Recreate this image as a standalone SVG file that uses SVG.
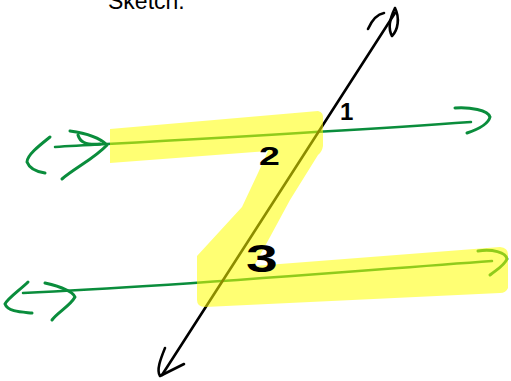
<svg xmlns="http://www.w3.org/2000/svg" width="511" height="381" viewBox="0 0 511 381">
<style>
.g{fill:none;stroke:#0a8d3c;stroke-width:3;stroke-linecap:round;stroke-linejoin:round}
.gl{fill:none;stroke:#0a8d3c;stroke-width:2.5;stroke-linecap:round}
.k{fill:none;stroke:#000;stroke-width:2.6;stroke-linecap:round;stroke-linejoin:round}
.lbl{font-family:"Liberation Sans",Arial,sans-serif;fill:#000}
.num{font-family:"Liberation Sans",Arial,sans-serif;fill:#000;font-weight:bold}
.hl{fill:#ffff00;opacity:0.55}
</style>
<rect width="511" height="381" fill="#fff"/>
<text class="lbl" x="108" y="9" font-size="23">Sketch:</text>
<g id="connectors">
<g id="line-upper">
<path class="gl" d="M55,147 C180,140 330,132 471,122"/>
<path class="g" d="M50,137 C40,145 27,155 27,162 C30,170 38,172 45,173"/>
<path class="g" d="M70,131 C85,133 100,138 107,145 C95,158 75,168 62,179"/>
<path class="g" d="M78,135 C80,142 85,145 100,144"/>
<path class="g" d="M455,108 C470,107 488,110 490,117 C488,125 476,130 467,133"/>
</g>
<g id="line-lower">
<path class="gl" d="M23,293 C180,286 340,272 492,261"/>
<path class="g" d="M28,282 C20,290 8,298 5,304 C8,312 22,312 32,313"/>
<path class="g" d="M45,283 C58,286 72,290 75,297 C70,306 58,312 52,320"/>
<path class="g" d="M478,251 C492,249 506,252 507,259 C504,266 496,270 490,275"/>
</g>
<g id="transversal">
<path class="k" d="M395,13 L162,375"/>
<path class="k" d="M368,29 C372,20 378,14 384,13"/>
<path class="k" d="M395,8 C391,16 387,27 392,36 C398,30 400,18 395,8"/>
<path class="k" d="M165,348 C161,358 156,370 160,376 L184,364"/>
</g>
</g>
<g id="highlight">
<path class="hl" d="M110,129 L318,111 Q324,112 323,120 L323,146 Q322,152 318,155 L290,200 L270,237 L254,266 L500,247 Q508,248 508,254 L508,288 Q506,293 500,293 L205,307 Q197,307 197,300 L197,256 L242,207 L258,173 L268,151 L110,163 Z"/>
</g>
<g id="label-1"><text class="num" x="340" y="120" font-size="24">1</text></g>
<g id="label-2"><text class="num" transform="translate(259,165) scale(1.5,1)" font-size="25">2</text></g>
<g id="label-3"><text class="num" transform="translate(246,272) scale(1.5,1)" font-size="38">3</text></g>
</svg>
